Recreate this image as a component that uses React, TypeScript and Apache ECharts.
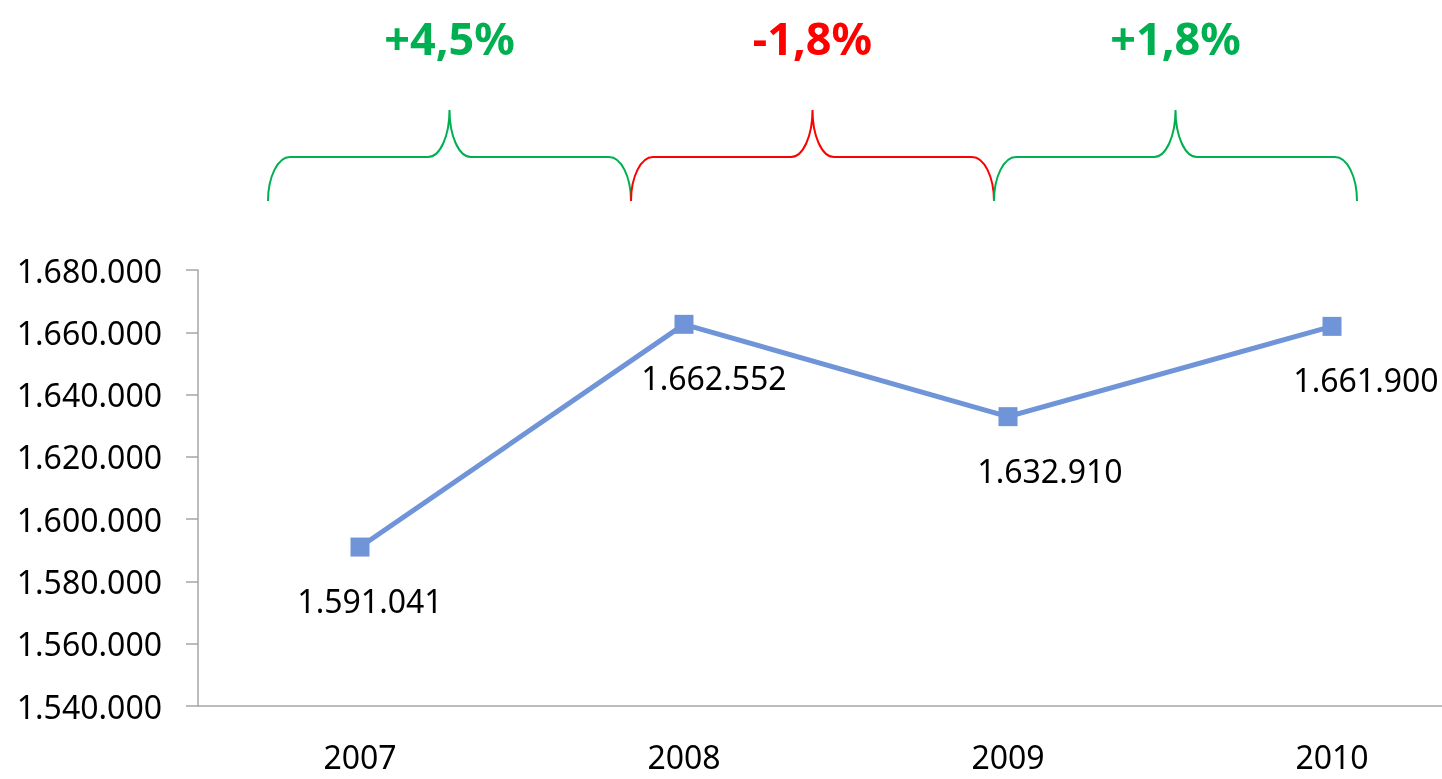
import React, { useEffect, useRef } from "react";
import * as echarts from "echarts";

const years = ["2007", "2008", "2009", "2010"];
const values = [1591041, 1662552, 1632910, 1661900];
const changes = ["+4,5%", "-1,8%", "+1,8%"];
const changeColors = ["#00B050", "#FF0000", "#00B050"];
const yMin = 1540000;
const yMax = 1680000;
const yStep = 20000;

// label horizontal nudges (style only)
const labelDx = [10, 30, 42, 34];

const fmt = (v: number) => Math.round(v).toString().replace(/\B(?=(\d{3})+(?!\d))/g, ".");

const BRACE_D =
  "M0 91 C0 66.7 9.9 47 22 47 L160 47 C172.1 47 181.5 26 181.5 0 C181.5 26 190.9 47 203 47 L341 47 C353.1 47 363 66.7 363 91";

let registered = false;

export default function App() {
  const ref = useRef<HTMLDivElement>(null);
  useEffect(() => {
    document.body.style.margin = "0";
    if (!registered) {
      echarts.graphic.registerShape("brace", echarts.graphic.extendPath(BRACE_D, {}) as any);
      registered = true;
    }
    const chart = echarts.init(ref.current!, null, { renderer: "svg" });
    const font = "'Noto Sans', 'Open Sans', sans-serif";
    const braceLeft = [268, 631, 994];
    const graphic: any[] = [];
    changes.forEach((c, i) => {
      graphic.push({
        type: "brace",
        x: braceLeft[i],
        y: 110,
        style: { fill: null, stroke: changeColors[i], lineWidth: 2 },
        silent: true,
      });
      graphic.push({
        type: "text",
        x: braceLeft[i] + 181.5,
        y: 37,
        style: {
          text: c,
          fill: changeColors[i],
          font: `bold 45px ${font}`,
          textAlign: "center",
          textVerticalAlign: "middle",
        },
      });
    });
    chart.setOption({
      animation: false,
      textStyle: { fontFamily: font },
      grid: { left: 198, top: 270, height: 436, width: 1296, outerBoundsMode: "none", containLabel: false },
      xAxis: {
        type: "category",
        data: years,
        boundaryGap: true,
        axisLine: { lineStyle: { color: "#A6A6A6", width: 1.5 } },
        axisTick: { show: false },
        axisLabel: { color: "#000", fontSize: 32, lineHeight: 28, margin: 36, fontFamily: font },
      },
      yAxis: {
        type: "value",
        min: yMin,
        max: yMax,
        interval: yStep,
        splitLine: { show: false },
        axisLine: { show: true, lineStyle: { color: "#A6A6A6", width: 1.5 } },
        axisTick: { show: true, length: 12, lineStyle: { color: "#A6A6A6", width: 1.5 } },
        axisLabel: { color: "#000", fontSize: 32, margin: 36, fontFamily: font, formatter: (v: number) => fmt(v) },
      },
      series: [
        {
          type: "line",
          data: values.map((v, i) => ({
            value: v,
            label: { offset: [labelDx[i], 0] },
          })),
          symbol: "rect",
          symbolSize: 19,
          lineStyle: { color: "#7094D8", width: 5 },
          itemStyle: { color: "#7094D8" },
          label: {
            show: true,
            position: "bottom",
            distance: 28,
            color: "#000",
            fontSize: 32,
            fontFamily: font,
            formatter: (p: any) => fmt(p.value),
          },
        },
      ],
      graphic,
    });
    return () => chart.dispose();
  }, []);
  return <div ref={ref} style={{ position: "fixed", left: 0, top: 0, width: 1442, height: 779 }} />;
}
